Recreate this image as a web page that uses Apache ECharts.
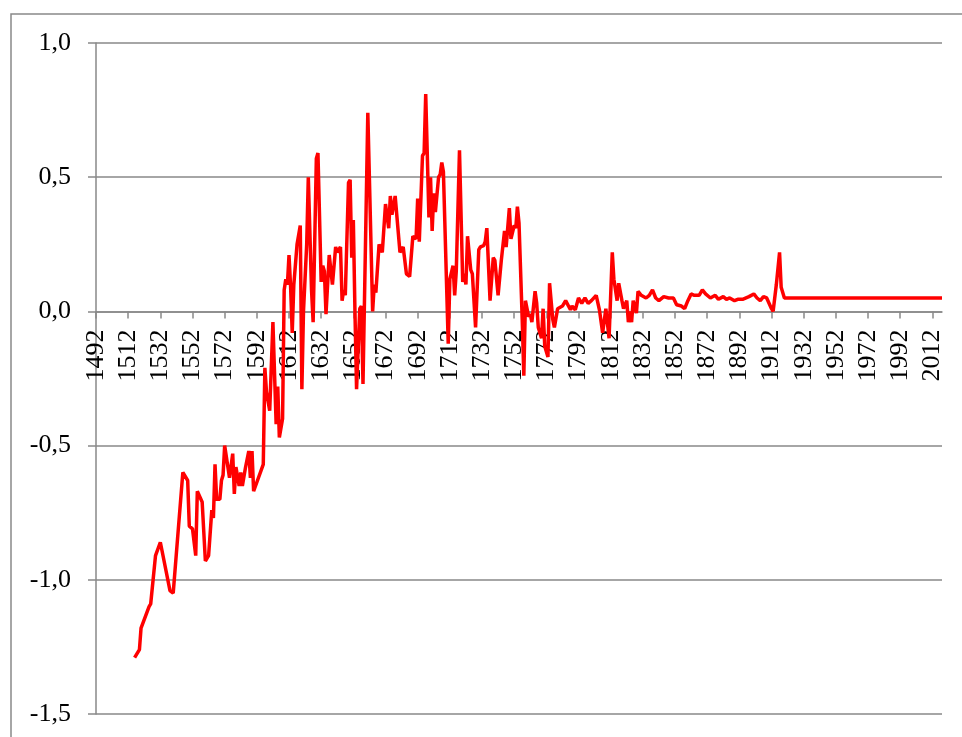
<!DOCTYPE html>
<html>
<head>
<meta charset="utf-8">
<script src="https://cdn.jsdelivr.net/npm/echarts@6/dist/echarts.min.js"></script>
<style>
html,body{margin:0;padding:0;background:#fff;}
#chart{width:962px;height:737px;}
</style>
</head>
<body>
<div id="chart"></div>
<script>
// Category range (years) shown on the x axis
const firstYear = 1492;
const lastYear = 2018;

// Data: years and values
const years = [
1516,1519,1520,1525,1526,1529,1532,1538,1540,1546,1549,1550,1552,1554,1555,1558,1560,1562,1564,1565,
1566,1567,1569,1570,1571,1572,1574,1575,1577,1578,1579,1581,1582,1583,1585,1587,1588,1589,1590,1596,
1597,1598,1600,1602,1604,1605,1606,1608,1609,1610,1611,1612,1613,1614,1615,1617,1619,1620,1621,1623,
1624,1626,1627,1629,1630,1632,1633,1634,1635,1637,1639,1641,1642,1644,1645,1646,1647,1649,1650,1651,
1652,1653,1654,1656,1657,1658,1661,1664,1665,1666,1668,1670,1672,1674,1675,1676,1678,1681,1683,1685,
1687,1689,1691,1692,1693,1695,1696,1697,1699,1700,1701,1702,1703,1705,1706,1707,1708,1711,1712,1713,
1714,1715,1716,1718,1720,1721,1722,1723,1725,1726,1728,1730,1731,1733,1734,1735,1737,1739,1740,1742,
1744,1746,1747,1749,1750,1752,1753,1754,1755,1757,1758,1759,1761,1762,1763,1765,1766,1767,1769,1770,
1771,1773,1774,1776,1777,1779,1780,1782,1784,1787,1788,1790,1792,1794,1796,1798,1800,1803,1805,1807,
1809,1811,1813,1814,1816,1817,1819,1820,1822,1823,1824,1825,1826,1828,1829,1831,1834,1836,1838,1840,
1842,1845,1848,1851,1853,1856,1858,1860,1862,1864,1867,1869,1871,1874,1877,1879,1882,1884,1886,1889,
1891,1894,1898,1901,1903,1905,1907,1909,1910,1912,1913,1915,1917,1918,1920,2018
];
const values = [
-1.29,-1.26,-1.18,-1.10,-1.09,-0.91,-0.86,-1.04,-1.05,-0.60,-0.63,-0.80,-0.81,-0.91,-0.67,-0.71,-0.93,-0.91,-0.74,-0.77,
-0.57,-0.70,-0.70,-0.63,-0.61,-0.50,-0.58,-0.62,-0.53,-0.68,-0.58,-0.65,-0.60,-0.65,-0.58,-0.52,-0.62,-0.52,-0.67,-0.57,
-0.21,-0.30,-0.37,-0.04,-0.42,-0.28,-0.47,-0.40,0.08,0.12,0.10,0.21,0.09,-0.08,0.10,0.25,0.32,-0.29,0.00,0.25,
0.50,0.08,-0.04,0.57,0.59,0.11,0.17,0.15,-0.01,0.21,0.10,0.24,0.22,0.24,0.04,0.08,0.06,0.48,0.49,0.20,
0.34,0.00,-0.29,0.01,0.02,-0.27,0.74,0.00,0.10,0.07,0.25,0.22,0.40,0.31,0.43,0.36,0.43,0.22,0.24,0.14,
0.13,0.28,0.27,0.42,0.26,0.58,0.59,0.81,0.35,0.50,0.30,0.44,0.37,0.50,0.51,0.555,0.52,-0.12,0.12,0.12,
0.17,0.06,0.15,0.60,0.11,0.14,0.10,0.28,0.155,0.14,-0.06,0.23,0.24,0.245,0.26,0.31,0.04,0.20,0.19,0.06,
0.19,0.30,0.24,0.385,0.27,0.32,0.31,0.39,0.33,-0.03,-0.24,0.04,-0.02,-0.01,-0.04,0.075,0.03,-0.06,-0.10,0.01,
-0.13,-0.17,0.105,-0.03,-0.06,0.01,0.01,0.02,0.04,0.006,0.02,0.006,0.05,0.03,0.05,0.03,0.04,0.06,0.006,-0.08,
0.01,-0.10,0.22,0.12,0.04,0.105,0.04,0.01,0.04,-0.04,0.00,-0.04,0.04,-0.006,0.075,0.06,0.05,0.06,0.08,0.05,
0.04,0.055,0.05,0.05,0.025,0.02,0.01,0.04,0.065,0.06,0.06,0.08,0.065,0.05,0.06,0.045,0.055,0.045,0.05,0.04,
0.045,0.045,0.055,0.065,0.05,0.04,0.055,0.05,0.045,0.01,0.00,0.10,0.22,0.09,0.05,0.05
];

// Y-axis range and step
const yMin = -1.5, yMax = 1.0, yStep = 0.5;

const categories = [];
for (let y = firstYear; y <= lastYear; y++) categories.push(String(y));
const seriesData = years.map((y, i) => [String(y), values[i]]);

const gridTop = 43, gridBottom = 23, H = 737;
const gridH = H - gridTop - gridBottom;
// move the x axis (line, ticks, labels) up to the value 0
const zeroOffset = -gridH * (0 - yMin) / (yMax - yMin);

const gray = '#898989';
const chart = echarts.init(document.getElementById('chart'));
chart.setOption({
  animation: false,
  backgroundColor: '#fff',
  graphic: [{
    type: 'rect',
    shape: {x: 11, y: 14, width: 1000, height: 800},
    style: {fill: 'none', stroke: gray, lineWidth: 1.5},
    silent: true
  }],
  grid: {left: 96, right: 20, top: gridTop, bottom: gridBottom, containLabel: false, outerBoundsMode: 'none'},
  xAxis: {
    type: 'category',
    data: categories,
    boundaryGap: false,
    position: 'bottom',
    offset: zeroOffset,
    axisLine: {onZero: false, lineStyle: {color: gray, width: 1.5}},
    axisTick: {show: true, interval: 19, length: 7, lineStyle: {color: gray, width: 1.5}},
    axisLabel: {
      interval: 19, rotate: 90, margin: 18,
      fontFamily: 'Liberation Serif', fontSize: 26, color: '#000'
    },
    splitLine: {show: false}
  },
  yAxis: {
    type: 'value',
    min: yMin, max: yMax, interval: yStep,
    axisLine: {show: true, lineStyle: {color: gray, width: 1.5}},
    axisTick: {show: true, length: 8, lineStyle: {color: gray, width: 1.5}},
    axisLabel: {
      margin: 25, fontFamily: 'Liberation Serif', fontSize: 26, color: '#000',
      formatter: v => v.toFixed(1).replace('.', ',')
    },
    splitLine: {show: true, lineStyle: {color: gray, width: 1.5}}
  },
  series: [{
    type: 'line',
    data: seriesData,
    showSymbol: false,
    symbol: 'none',
    lineStyle: {color: '#ff0000', width: 3.5},
    itemStyle: {color: '#ff0000'}
  }]
});
</script>
</body>
</html>
